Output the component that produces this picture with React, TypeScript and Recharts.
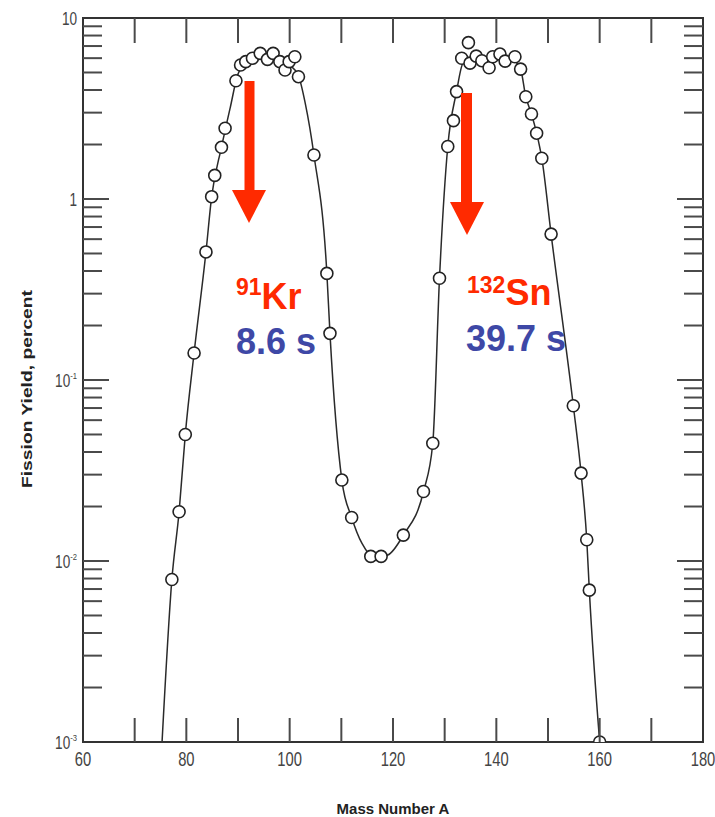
import React from 'react'
import {
  ComposedChart,
  Line,
  Scatter,
  XAxis,
  YAxis,
  ReferenceArea,
} from 'recharts'

// measured fission yields (mass number A, percent)
const massNumbers = [
  77.2, 78.6, 79.8, 81.5, 83.8, 84.9, 85.5, 86.8, 87.5, 89.6, 90.5, 91.5, 92.8, 94.3, 95.7, 96.8,
  98.1, 99.1, 99.9, 101.0, 101.7, 104.7, 107.2, 107.8, 110.1, 112.0, 115.7, 117.7, 122.0, 125.9,
  127.7, 129.0, 130.6, 131.7, 132.3, 133.3, 134.6, 134.9, 136.1, 137.2, 138.6, 139.3, 140.7, 141.7,
  143.6, 144.7, 145.7, 146.8, 147.8, 148.8, 150.6, 154.9, 156.4, 157.5, 158.0, 160.0,
]
const yields = [
  0.0079, 0.0187, 0.05, 0.141, 0.51, 1.03, 1.35, 1.93, 2.46, 4.5, 5.5, 5.74, 5.99, 6.38, 5.91, 6.38,
  5.74, 5.16, 5.74, 6.11, 4.74, 1.75, 0.388, 0.181, 0.028, 0.0174, 0.0106, 0.0106, 0.0139, 0.0242,
  0.0447, 0.365, 1.95, 2.71, 3.92, 5.99, 7.31, 5.63, 6.16, 5.81, 5.31, 6.11, 6.32, 5.78,
  6.11, 5.22, 3.67, 2.95, 2.31, 1.68, 0.64, 0.0721, 0.0306, 0.0131, 0.0069, 0.001,
]

// the smooth curve drawn through them
const curveMass = [
  75.3, 77.2, 78.6, 79.8, 81.5, 83.8, 84.9, 86.8, 88.5, 90, 92, 94, 96, 98, 100, 101.7, 103, 104.7,
  107.2, 107.8, 110.1, 112, 114, 116.5, 119, 122, 125.9, 127.7, 129, 130.6, 132.3, 133.5, 135, 137,
  139, 141, 143, 144.7, 145.7, 146.8, 147.8, 148.8, 150.6, 154.9, 156.4, 157.5, 158.0, 160.0,
]
const curveYield = [
  0.001, 0.0079, 0.0187, 0.05, 0.141, 0.51, 1.03, 1.93, 3.2, 4.9, 5.8, 6.2, 6.2, 5.9, 5.5, 4.8, 3.4, 1.75,
  0.388, 0.181, 0.028, 0.0174, 0.0125, 0.0105, 0.0108, 0.0139, 0.0242, 0.0447, 0.365, 1.95, 3.92, 5.6, 6.0, 6.0,
  6.0, 6.0, 5.9, 5.2, 3.67, 2.95, 2.31, 1.68, 0.64, 0.0721, 0.0306, 0.0131, 0.0069, 0.001,
]

const X_TICKS = [60, 70, 80, 90, 100, 110, 120, 130, 140, 150, 160, 170, 180]
const Y_MAJOR = [0.001, 0.01, 0.1, 1, 10]
const Y_MAJOR_LABELS = [
  { base: '10', exp: '-3' },
  { base: '10', exp: '-2' },
  { base: '10', exp: '-1' },
  { base: '1', exp: '' },
  { base: '10', exp: '' },
]
const Y_DECADES = [0.001, 0.01, 0.1, 1]
const Y_MINOR_STEPS = [2, 3, 4, 5, 6, 7, 8, 9]

const points = massNumbers.map((a, i) => ({ a, v: yields[i] }))
const curve = curveMass.map((a, i) => ({ a, v: curveYield[i] }))
const yTicks = [...Y_MAJOR, ...Y_DECADES.flatMap((d) => Y_MINOR_STEPS.map((m) => m * d))].sort((p, q) => p - q)

const W = 715
const H = 817
const L = 83
const R = 703
const T = 18
const B = 742
const INK = '#333'
const TICK_INK = '#4a4a4a'
const LABEL_FONT = "'Liberation Sans', Arial, Helvetica, sans-serif"
const BOLD_FONT = "'Liberation Sans', Arial, Helvetica, sans-serif"
const RED = '#ff2a00'
const BLUE = '#3e48a6'

function YTick(props: any) {
  const { y, payload } = props
  const v = payload.value
  const idx = Y_MAJOR.indexOf(v)
  const major = idx >= 0
  const edge = v === 10 || v === 0.001
  const len = major ? 26 : 19
  const lbl = major ? Y_MAJOR_LABELS[idx] : null
  return (
    <g>
      {!edge && <line x1={L} x2={L + len} y1={y} y2={y} stroke={TICK_INK} strokeWidth={2} />}
      {!edge && <line x1={R - len} x2={R} y1={y} y2={y} stroke={TICK_INK} strokeWidth={2} />}
      {lbl && (
        <text
          transform={`translate(77 ${y + 7}) scale(0.85 1.1)`}
          textAnchor="end"
          fontFamily={LABEL_FONT}
          fontSize={16}
          fill="#444"
        >
          {lbl.base}
          {lbl.exp && (
            <tspan fontSize={9} dy={-7}>
              {lbl.exp}
            </tspan>
          )}
        </text>
      )}
    </g>
  )
}

function XTick(props: any) {
  const { x, payload } = props
  const v = payload.value
  const inner = v > 60 && v < 180
  return (
    <g>
      {inner && <line x1={x} x2={x} y1={B} y2={B - 24} stroke={TICK_INK} strokeWidth={2} />}
      {inner && <line x1={x} x2={x} y1={T} y2={T + 25} stroke={TICK_INK} strokeWidth={2} />}
      {v % 20 === 0 && (
        <text
          transform={`translate(${x} 766) scale(0.82 1.12)`}
          textAnchor="middle"
          fontFamily={LABEL_FONT}
          fontSize={18}
          fill="#444"
        >
          {v}
        </text>
      )}
    </g>
  )
}

function OpenCircle(props: any) {
  const { cx, cy } = props
  return <circle cx={cx} cy={cy} r={6} fill="#fff" stroke="#222" strokeWidth={1.6} />
}

function Annotations() {
  return (
    <svg width={W} height={H} style={{ position: 'absolute', left: 0, top: 0, pointerEvents: 'none' }}>
      {/* axis titles */}
      <text x={393} y={814} textAnchor="middle" fontFamily={BOLD_FONT} fontWeight="bold" fontSize={15} fill="#222">
        Mass Number A
      </text>
      <text
        transform="translate(32 389) rotate(-90)"
        textAnchor="middle"
        fontFamily={BOLD_FONT}
        fontWeight="bold"
        fontSize={14}
        fill="#222"
        textLength={198}
        lengthAdjust="spacingAndGlyphs"
      >
        Fission Yield, percent
      </text>

      {/* 91Kr arrow */}
      <rect x={244.5} y={81} width={10} height={111} fill={RED} />
      <polygon points="232,190 266,190 249,223" fill={RED} />
      {/* 132Sn arrow */}
      <rect x={461} y={93} width={11} height={111} fill={RED} />
      <polygon points="450,202 484,202 467,235" fill={RED} />

      <text x={236} y={309} fontFamily={BOLD_FONT} fontWeight="bold" fill={RED}>
        <tspan fontSize={23} dy={-14}>91</tspan>
        <tspan fontSize={36} dy={14}>Kr</tspan>
      </text>
      <text x={236} y={354} fontFamily={BOLD_FONT} fontWeight="bold" fontSize={36} fill={BLUE}>
        8.6 s
      </text>
      <text x={467} y={305} fontFamily={BOLD_FONT} fontWeight="bold" fill={RED}>
        <tspan fontSize={23} dy={-12}>132</tspan>
        <tspan fontSize={36} dy={12}>Sn</tspan>
      </text>
      <text x={466} y={351} fontFamily={BOLD_FONT} fontWeight="bold" fontSize={36} fill={BLUE}>
        39.7 s
      </text>
    </svg>
  )
}

export default function App() {
  return (
    <div style={{ position: 'absolute', left: 0, top: 0, width: W, height: H, background: '#fff' }}>
      <ComposedChart width={W} height={H} margin={{ top: T, right: W - R, bottom: 0, left: 0 }}>
        <XAxis
          type="number"
          dataKey="a"
          domain={[60, 180]}
          ticks={X_TICKS}
          interval={0}
          height={H - B}
          tickLine={false}
          axisLine={{ stroke: INK, strokeWidth: 2 }}
          tick={<XTick />}
          allowDataOverflow
        />
        <YAxis
          type="number"
          dataKey="v"
          scale="log"
          domain={[0.001, 10]}
          ticks={yTicks}
          interval={0}
          width={L}
          tickLine={false}
          axisLine={{ stroke: INK, strokeWidth: 2 }}
          tick={<YTick />}
          allowDataOverflow
        />
        <ReferenceArea
          x1={60}
          x2={180}
          y1={0.001}
          y2={10}
          fill="none"
          stroke={INK}
          strokeWidth={2}
          ifOverflow="visible"
        />
        <Line
          data={curve}
          dataKey="v"
          type="monotone"
          dot={false}
          stroke="#2a2a2a"
          strokeWidth={1.5}
          isAnimationActive={false}
        />
        <Scatter data={points} dataKey="v" shape={<OpenCircle />} isAnimationActive={false} />
      </ComposedChart>
      <Annotations />
    </div>
  )
}
